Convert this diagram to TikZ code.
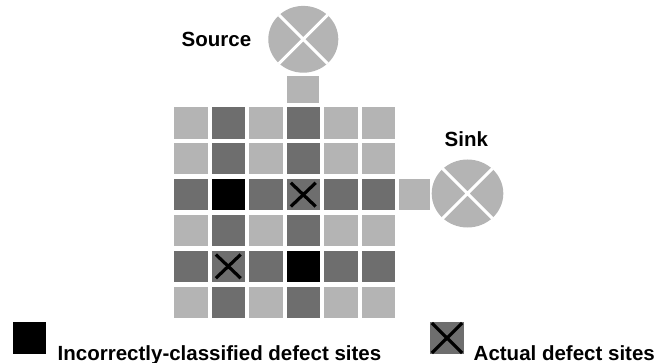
\documentclass[tikz,border=0pt]{standalone}
\usepackage{fontspec}
\setmainfont{Liberation Sans}
\usetikzlibrary{shapes.geometric}
\definecolor{lightcell}{HTML}{B4B4B4}
\definecolor{darkcell}{HTML}{6E6E6E}
\begin{document}
\begin{tikzpicture}[x=1pt,y=-1pt,
  cell/.style={rectangle,inner sep=0pt,minimum width=33.5pt,minimum height=31.3pt,draw=none},
  lcell/.style={cell,fill=lightcell},
  dcell/.style={cell,fill=darkcell},
  bcell/.style={cell,fill=black},
  port/.style={ellipse,inner sep=0pt,fill=lightcell,draw=none},
  link/.style={rectangle,inner sep=0pt,fill=lightcell,draw=none},
  lbl/.style={inner sep=0pt,anchor=base west,font=\fontsize{20.5}{24}\selectfont\bfseries},
  xmark/.style={line width=3.2pt,black},
  cut/.style={line width=3pt,white}]
\useasboundingbox (0,0) rectangle (668,363);
% grid
\foreach \r in {0,...,5}{
  \foreach \c in {0,...,5}{
    \pgfmathtruncatemacro{\dk}{(\r==2 || \r==4 || \c==1 || \c==3) ? 1 : 0}
    \pgfmathtruncatemacro{\bk}{((\r==2 && \c==1) || (\r==4 && \c==3)) ? 1 : 0}
    \ifnum\bk=1
      \node[bcell] (c-\r-\c) at ({190.75+37.5*\c},{122.95+35.85*\r}) {};
    \else\ifnum\dk=1
      \node[dcell] (c-\r-\c) at ({190.75+37.5*\c},{122.95+35.85*\r}) {};
    \else
      \node[lcell] (c-\r-\c) at ({190.75+37.5*\c},{122.95+35.85*\r}) {};
    \fi\fi
  }
}
% X marks on actual defect sites
\draw[xmark] ([shift={(4.5,4)}]c-2-3.north west) -- ([shift={(-4.5,-4)}]c-2-3.south east)
             ([shift={(-4.5,4)}]c-2-3.north east) -- ([shift={(4.5,-4)}]c-2-3.south west);
\draw[xmark] ([shift={(4.5,4)}]c-4-1.north west) -- ([shift={(-4.5,-4)}]c-4-1.south east)
             ([shift={(-4.5,4)}]c-4-1.north east) -- ([shift={(4.5,-4)}]c-4-1.south west);
% source
\node[link,minimum width=32.6pt,minimum height=26.7pt] (srclink) at (303.1,89.4) {};
\node[port,minimum width=70pt,minimum height=66.8pt] (source) at (303.3,39.3) {};
\draw[cut] (source.45) -- (source.225) (source.135) -- (source.315);
\node[lbl] (sourcelbl) at (181.5,46.5) {Source};
% sink
\node[link,minimum width=30.2pt,minimum height=31.3pt] (sinklink) at (414.4,194.8) {};
\node[port,minimum width=71.6pt,minimum height=68pt] (sink) at (467.5,193.5) {};
\draw[cut] (sink.45) -- (sink.225) (sink.135) -- (sink.315);
\node[lbl] (sinklbl) at (444.5,146.5) {Sink};
% legend
\node[rectangle,inner sep=0pt,fill=black,minimum width=33.3pt,minimum height=32.6pt] (legb) at (29.35,338) {};
\node[lbl] (legbt) at (57.5,360) {Incorrectly-classified defect sites};
\node[rectangle,inner sep=0pt,fill=darkcell,minimum width=34pt,minimum height=32.6pt] (legx) at (447,338) {};
\draw[xmark] ([shift={(2,1.5)}]legx.north west) -- ([shift={(-2,-1.5)}]legx.south east)
             ([shift={(-2,1.5)}]legx.north east) -- ([shift={(2,-1.5)}]legx.south west);
\node[lbl] (legxt) at (473.5,360) {Actual defect sites};
\end{tikzpicture}
\end{document}
